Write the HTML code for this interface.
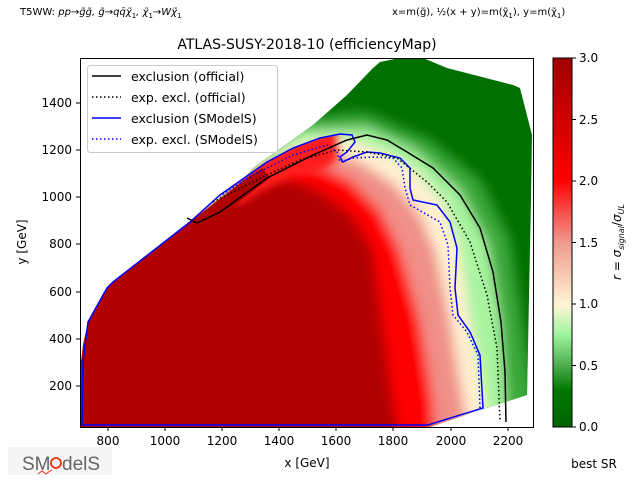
<!DOCTYPE html>
<html><head><meta charset="utf-8"><style>
body{margin:0;background:#fff;}
svg{display:block;font-family:"DejaVu Sans","Liberation Sans",sans-serif;}
</style></head><body>
<svg width="640" height="480" viewBox="0 0 640 480" xmlns="http://www.w3.org/2000/svg">
<defs>
<clipPath id="data"><polygon points="81,427 81,362 83,345 88,322 107,288 113,282 190,222 247,175 253,168 313,125 347,95 373,68 380,62 400,58 423,58 447,68 513,85 520,88 532,135 531,200 527,395 490,407 430,427"/></clipPath>
<clipPath id="inblue"><polygon points="82,425 428,425 483,408 480,355 470,332 458,315 455,288 457,248 450,222 437,205 413,200 410,188 410,168 400,158 380,153 367,152 353,157 343,162 340,157 347,152 355,142 352,135 340,134 320,138 293,148 267,162 220,195 190,222 113,282 107,288 88,322 83,362 82,425"/></clipPath>
<filter id="bl" x="-20%" y="-20%" width="140%" height="140%"><feGaussianBlur stdDeviation="6"/></filter>
<filter id="bl2" x="-20%" y="-20%" width="140%" height="140%"><feGaussianBlur stdDeviation="4"/></filter>
<linearGradient id="cb" x1="0" y1="1" x2="0" y2="0">
<stop offset="0" stop-color="#006400"/>
<stop offset="0.1" stop-color="#007800"/>
<stop offset="0.17" stop-color="#50b050"/>
<stop offset="0.25" stop-color="#9ef59e"/>
<stop offset="0.33" stop-color="#fff5d5"/>
<stop offset="0.5" stop-color="#f09a90"/>
<stop offset="0.67" stop-color="#ff0000"/>
<stop offset="1" stop-color="#a00000"/>
</linearGradient>
</defs>
<text x="20" y="15" font-size="10">T5WW: <tspan font-style="italic">pp→g̃g̃, g̃→qq̄χ̃</tspan><tspan font-size="7" dy="3">1</tspan><tspan dy="-3" font-style="italic">, χ̃</tspan><tspan font-size="7" dy="3">1</tspan><tspan dy="-3" font-style="italic">→Wχ̃</tspan><tspan font-size="7" dy="3">1</tspan></text>
<text x="392" y="15" font-size="10">x=m(g̃), ½(x + y)=m(χ̃<tspan font-size="7" dy="3">1</tspan><tspan dy="-3">), y=m(χ̃</tspan><tspan font-size="7" dy="3">1</tspan><tspan dy="-3">)</tspan></text>
<text x="307" y="49" font-size="14" text-anchor="middle">ATLAS-SUSY-2018-10 (efficiencyMap)</text>

<g clip-path="url(#data)">
<rect x="70" y="50" width="470" height="390" fill="#007000"/>
<g filter="url(#bl)">
<polygon fill="#3aa83a" points="60,440 60,300 190,190 300,118 365,112 430,140 480,180 510,240 522,320 540,440"/>
<polygon fill="#a8f4a0" points="60,440 60,300 190,205 300,130 367,128 415,150 460,190 488,245 500,320 508,440"/>
<polygon fill="#fff0d2" points="60,440 60,290 190,212 250,172 300,142 345,138 380,150 415,170 445,205 460,250 470,320 485,400 490,440"/>
<polygon fill="#f09088" points="60,440 470,440 463,400 450,320 435,250 420,215 395,185 360,162 320,150 280,160 250,175 190,217 60,295"/>
<polygon fill="#ff0000" points="60,440 435,440 433,400 420,320 400,250 380,210 350,180 320,166 290,158 260,170 190,220 60,300"/>
<polygon fill="#b00000" points="60,440 400,440 393,400 385,340 373,250 352,215 318,190 280,175 250,178 190,222 60,300"/>
</g>
<g clip-path="url(#inblue)">
<polygon filter="url(#bl2)" fill="#ff1a1a" points="230,200 247,170 267,155 293,142 320,132 336,130 338,160 320,172 290,178 260,192 240,205"/>
<polygon fill="#b00000" points="70,440 70,330 107,288 190,222 247,178 262,168 270,178 200,232 100,320 100,440"/>
</g>
</g>

<g fill="none" stroke-width="1.5">
<polyline stroke="#0000ff" points="82,425 428,425 483,408 480,355 470,332 458,315 455,288 457,248 450,222 437,205 413,200 410,188 410,168 400,158 380,153 367,152 353,157 343,162 340,157 347,152 355,142 352,135 340,134 320,138 293,148 267,162 220,195 190,222 113,282 107,288 88,322 83,362 82,425"/>
<polyline stroke="#0000ff" stroke-dasharray="1.5,2.5" points="480,408 478,355 467,332 453,315 450,288 448,245 440,222 410,205 405,188 402,168 393,158 373,157 353,158 340,162 337,152 327,145 293,155 253,175 220,196"/>
<polyline stroke="#000" points="187,218 197,223 220,212 267,178 313,155 347,140 367,135 387,140 407,152 433,168 460,195 480,228 493,272 501,322 505,372 506,422"/>
<polyline stroke="#000" stroke-dasharray="1.5,2.5" points="213,202 267,175 300,160 337,150 367,152 397,158 427,182 447,202 470,242 487,295 497,348 500,422"/>
</g>

<rect x="80.5" y="58.5" width="453" height="369" fill="none" stroke="#000" stroke-width="1"/>
<g stroke="#000">
<line x1="108" y1="427" x2="108" y2="431"/><line x1="165" y1="427" x2="165" y2="431"/><line x1="222" y1="427" x2="222" y2="431"/><line x1="279" y1="427" x2="279" y2="431"/><line x1="336" y1="427" x2="336" y2="431"/><line x1="393" y1="427" x2="393" y2="431"/><line x1="451" y1="427" x2="451" y2="431"/><line x1="508" y1="427" x2="508" y2="431"/>
<line x1="76" y1="386" x2="80" y2="386"/><line x1="76" y1="339" x2="80" y2="339"/><line x1="76" y1="292" x2="80" y2="292"/><line x1="76" y1="244" x2="80" y2="244"/><line x1="76" y1="197" x2="80" y2="197"/><line x1="76" y1="150" x2="80" y2="150"/><line x1="76" y1="103" x2="80" y2="103"/>
</g>
<g font-size="12" text-anchor="middle">
<text x="108" y="445">800</text><text x="165" y="445">1000</text><text x="222" y="445">1200</text><text x="279" y="445">1400</text><text x="336" y="445">1600</text><text x="393" y="445">1800</text><text x="451" y="445">2000</text><text x="508" y="445">2200</text>
</g>
<g font-size="12" text-anchor="end">
<text x="72" y="390">200</text><text x="72" y="343">400</text><text x="72" y="296">600</text><text x="72" y="248">800</text><text x="72" y="201">1000</text><text x="72" y="154">1200</text><text x="72" y="107">1400</text>
</g>
<text x="307" y="467" font-size="12" text-anchor="middle">x [GeV]</text>
<text transform="translate(26,242) rotate(-90)" font-size="12" text-anchor="middle">y [GeV]</text>

<rect x="87.5" y="65.5" width="190" height="87" rx="3" fill="#fff" fill-opacity="0.85" stroke="#ccc"/>
<g stroke-width="1.5">
<line x1="92" y1="76" x2="121" y2="76" stroke="#000"/>
<line x1="92" y1="97" x2="121" y2="97" stroke="#000" stroke-dasharray="1.5,2.5"/>
<line x1="92" y1="118" x2="121" y2="118" stroke="#00f"/>
<line x1="92" y1="139" x2="121" y2="139" stroke="#00f" stroke-dasharray="1.5,2.5"/>
</g>
<g font-size="12.5">
<text x="131" y="81">exclusion (official)</text>
<text x="131" y="102">exp. excl. (official)</text>
<text x="131" y="123">exclusion (SModelS)</text>
<text x="131" y="144">exp. excl. (SModelS)</text>
</g>

<rect x="553" y="58" width="19" height="369" fill="url(#cb)" stroke="#000" stroke-width="1"/>
<g stroke="#000"><line x1="572" y1="58" x2="576" y2="58"/><line x1="572" y1="119.5" x2="576" y2="119.5"/><line x1="572" y1="181" x2="576" y2="181"/><line x1="572" y1="242.5" x2="576" y2="242.5"/><line x1="572" y1="304" x2="576" y2="304"/><line x1="572" y1="365.5" x2="576" y2="365.5"/><line x1="572" y1="427" x2="576" y2="427"/></g>
<g font-size="12">
<text x="579" y="62">3.0</text><text x="579" y="124">2.5</text><text x="579" y="185">2.0</text><text x="579" y="247">1.5</text><text x="579" y="308">1.0</text><text x="579" y="370">0.5</text><text x="579" y="431">0.0</text>
</g>
<text transform="translate(621,242) rotate(-90)" font-size="12" text-anchor="middle"><tspan font-style="italic">r</tspan> = <tspan font-style="italic">σ</tspan><tspan font-size="8" font-style="italic" dy="3">signal</tspan><tspan dy="-3">/</tspan><tspan font-style="italic">σ</tspan><tspan font-size="8" font-style="italic" dy="3">UL</tspan></text>
<text x="594" y="468" font-size="12" text-anchor="middle">best SR</text>

<rect x="8" y="447" width="104" height="28" fill="#eee" opacity="0.6"/>
<text x="22" y="470" font-size="19" fill="#666" font-family="Liberation Sans,sans-serif">SM</text>
<circle cx="56" cy="463" r="5" fill="none" stroke="#f03010" stroke-width="1.8"/>
<text x="62" y="470" font-size="19" fill="#666" font-family="Liberation Sans,sans-serif">delS</text>
<polyline points="38,474 42,471 46,474 50,471 52,470" fill="none" stroke="#f03010" stroke-width="1"/>
</svg>
</body></html>
